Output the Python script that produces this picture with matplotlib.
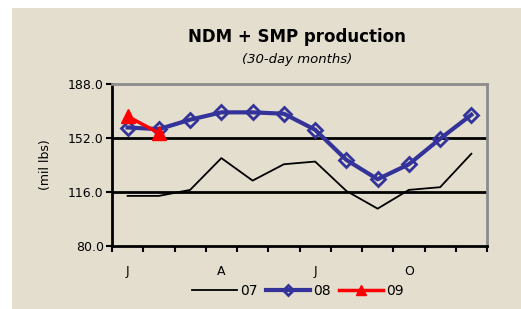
import matplotlib.pyplot as plt
from matplotlib.patches import Rectangle
import numpy as np

months = ["J", "F", "M", "A", "M", "J", "J", "A", "S", "O", "N", "D"]
prod_07 = [113.4, 113.4, 117.4, 138.6, 123.6, 134.5, 136.3, 116.7, 104.9, 117.4, 119.2, 141.5]
prod_08 = [159.0, 157.9, 164.2, 169.1, 169.1, 168.2, 157.5, 137.4, 124.5, 134.5, 151.5, 167.5]
prod_09 = [166.4, 155.3]
yticks = [80, 116, 152, 188]

bg = "#E3DECE"
plt.rcParams['font.family'] = ['DejaVu Sans']

fig = plt.figure(figsize=(5.21, 3.09), dpi=100, facecolor="white")
fig.patches.append(Rectangle((12 / 521, 0), 1, 1 - 8 / 309, transform=fig.transFigure,
                             facecolor=bg, edgecolor="none", zorder=-10))

ax = fig.add_axes([112 / 521, 1 - 246 / 309, 375 / 521, 162 / 309])
ax.set_facecolor(bg)

x = np.arange(len(months))
for v in [116, 152]:
    ax.axhline(v, color="black", lw=2, zorder=1)

ax.plot(x, prod_07, color="black", lw=1.3, label="07", zorder=3)
ax.plot(x, prod_08, color="#333399", lw=3, marker="D", markersize=7.5, markerfacecolor="none",
        markeredgecolor="#333399", markeredgewidth=2, label="08", zorder=4)
ax.plot(x[:len(prod_09)], prod_09, color="#FF0000", lw=2.5, marker="^", markersize=10,
        label="09", zorder=5)

ax.set_xlim(-0.5, 11.5)
ax.set_ylim(80, 188)
ax.set_yticks(yticks)
ax.set_yticklabels([f"{v:.1f}" for v in yticks], fontsize=9)
ax.set_xticks(np.arange(-0.5, 12, 1))
ax.set_xticklabels([])
ax.set_xticks(x, minor=True)
ax.set_xticklabels([m if i % 3 == 0 else "" for i, m in enumerate(months)], minor=True, fontsize=9)
ax.tick_params(axis="x", which="major", direction="out", length=4, width=1.5)
ax.tick_params(axis="x", which="minor", length=0, pad=14)
ax.tick_params(axis="y", direction="out", length=4, width=1.5, pad=2)

for s in ["left", "bottom"]:
    ax.spines[s].set_linewidth(2)
    ax.spines[s].set_color("black")
for s in ["top", "right"]:
    ax.spines[s].set_linewidth(2)
    ax.spines[s].set_color("#8C8C8C")

ax.set_ylabel("(mil lbs)", fontsize=9, labelpad=0)
ax.yaxis.set_label_coords(-0.16, 0.5)

fig.text(297 / 521, 1 - 37 / 309, "NDM + SMP production", ha="center", va="center",
         fontsize=12, fontweight="bold")
fig.text(297 / 521, 1 - 59 / 309, "(30-day months)", ha="center", va="center",
         fontsize=9.5, style="italic")

fig.legend(loc="center", bbox_to_anchor=(298 / 521, 1 - 291 / 309), ncol=3, frameon=False,
           fontsize=10, handlelength=3.2, handletextpad=0.2, columnspacing=0.6, borderpad=0,
           markerscale=0.65)

fig.savefig("out.png", dpi=100, facecolor="white")
